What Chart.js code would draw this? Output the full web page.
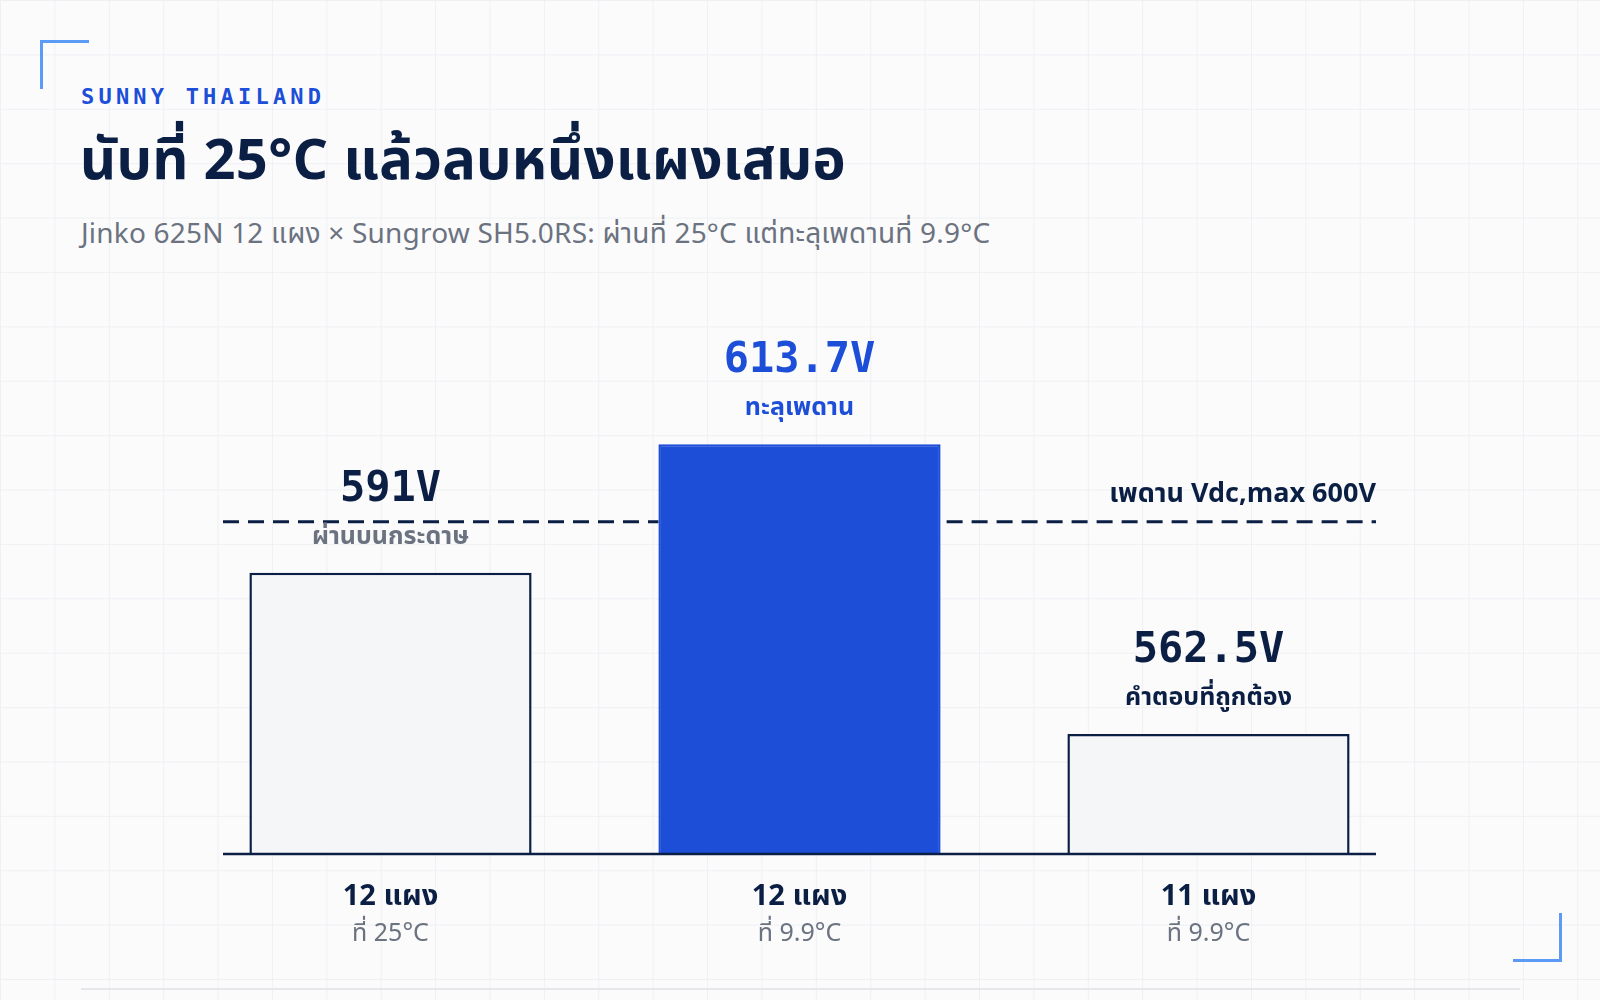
<!DOCTYPE html>
<html>
<head>
<meta charset="utf-8">
<script src="https://cdn.jsdelivr.net/npm/chart.js@4"></script>
<style>
  html, body { margin: 0; padding: 0; }
  body {
    width: 1600px; height: 1000px; overflow: hidden; position: relative;
    background-color: #fbfbfc;
    background-image:
      linear-gradient(to right, #eef0f3 1px, transparent 1px),
      linear-gradient(to bottom, #eef0f3 1px, transparent 1px);
    background-size: 54.4px 54.4px;
    font-family: "Noto Sans Thai", "Noto Sans", "Liberation Sans", sans-serif;
  }
  .corner { position: absolute; width: 46px; height: 46px; border-color: #5b9bf5; border-style: solid; border-width: 0; }
  .tl { left: 40px; top: 40px; border-top-width: 3px; border-left-width: 3px; }
  .br { left: 1513px; top: 913px; border-bottom-width: 3px; border-right-width: 3px; }
  .kicker { position: absolute; left: 81px; top: 84px; font-family: "DejaVu Sans Mono", monospace; font-weight: bold; font-size: 22px; letter-spacing: 4.2px; color: #1d4ed8; }
  h1 { position: absolute; left: 80px; top: 132px; margin: 0; font-size: 56px; font-weight: 700; color: #0b1f44; line-height: 1.1; letter-spacing: 0.3px; }
  .sub { position: absolute; left: 81px; top: 213px; font-size: 28px; color: #6b7280; letter-spacing: 0.2px; }
  .rule { position: absolute; left: 81px; top: 988px; width: 1439px; height: 2px; background: #e5e7eb; }
  #wrap { position: absolute; left: 0; top: 0; width: 1600px; height: 1000px; }
</style>
</head>
<body>
<div class="corner tl"></div>
<div class="corner br"></div>
<div class="kicker">SUNNY THAILAND</div>
<h1>นับที่ 25°C แล้วลบหนึ่งแผงเสมอ</h1>
<div class="sub">Jinko 625N 12 แผง × Sungrow SH5.0RS: ผ่านที่ 25°C แต่ทะลุเพดานที่ 9.9°C</div>
<div class="rule"></div>
<div id="wrap"><canvas id="chart" width="1600" height="1000"></canvas></div>
<script>
const panels = ["12 แผง", "12 แผง", "11 แผง"];
const temps = ["ที่ 25°C", "ที่ 9.9°C", "ที่ 9.9°C"];
const voltages = [591, 613.7, 562.5];
const valueLabels = ["591V", "613.7V", "562.5V"];
const notes = ["ผ่านบนกระดาษ", "ทะลุเพดาน", "คำตอบที่ถูกต้อง"];
const limitValue = 600;
const limitLabel = "เพดาน Vdc,max 600V";

const DARK = "#0b1f44", BLUE = "#1d4ed8", GRAY = "#6b7280";
const SANS = '"Noto Sans Thai", "Noto Sans", "Liberation Sans", sans-serif';
const MONO = '"DejaVu Sans Mono", monospace';

const overlay = {
  id: "overlay",
  afterDatasetsDraw(chart) {
    const ctx = chart.ctx;
    const y = chart.scales.y;
    const left = 223, right = 1376;
    ctx.save();
    // baseline
    ctx.strokeStyle = DARK; ctx.lineWidth = 2.5;
    ctx.beginPath(); ctx.moveTo(left, y.bottom); ctx.lineTo(right, y.bottom); ctx.stroke();
    // limit line, interrupted by the blue bar
    const ly = y.getPixelForValue(limitValue);
    const bar2 = chart.getDatasetMeta(0).data[1];
    ctx.setLineDash([16, 9]); ctx.lineWidth = 3;
    ctx.beginPath(); ctx.moveTo(left, ly); ctx.lineTo(bar2.x - bar2.width / 2, ly);
    ctx.moveTo(bar2.x + bar2.width / 2 + 6, ly); ctx.lineTo(right, ly); ctx.stroke();
    ctx.setLineDash([]);
    ctx.fillStyle = DARK; ctx.textAlign = "right"; ctx.textBaseline = "alphabetic";
    ctx.font = "bold 27px " + SANS;
    ctx.fillText(limitLabel, right, ly - 20);

    ctx.textAlign = "center";
    chart.getDatasetMeta(0).data.forEach((bar, i) => {
      const valColor = i === 1 ? BLUE : DARK;
      const noteColor = i === 0 ? GRAY : (i === 1 ? BLUE : DARK);
      ctx.fillStyle = valColor;
      ctx.font = "bold 42px " + MONO;
      ctx.fillText(valueLabels[i], bar.x, bar.y - 72);
      ctx.fillStyle = noteColor;
      ctx.font = "bold 25px " + SANS;
      ctx.fillText(notes[i], bar.x, bar.y - 29);
      ctx.fillStyle = DARK;
      ctx.font = "bold 29px " + SANS;
      ctx.fillText(panels[i], bar.x, y.bottom + 51);
      ctx.fillStyle = GRAY;
      ctx.font = "25px " + SANS;
      ctx.fillText(temps[i], bar.x, y.bottom + 87);
    });
    ctx.restore();
  }
};

new Chart(document.getElementById("chart"), {
  type: "bar",
  data: {
    labels: panels,
    datasets: [{
      data: voltages,
      backgroundColor: ["#f5f6f8", BLUE, "#f5f6f8"],
      borderColor: [DARK, BLUE, DARK],
      borderWidth: 2.5,
      borderSkipped: "bottom",
      barPercentage: 0.69,
      categoryPercentage: 1
    }]
  },
  options: {
    responsive: false,
    animation: false,
    layout: { padding: { left: 186, right: 187, top: 235, bottom: 146 } },
    plugins: { legend: { display: false }, tooltip: { enabled: false } },
    scales: {
      x: { display: false },
      y: { display: false, min: 541.3, max: 650.7 }
    }
  },
  plugins: [overlay]
});
</script>
</body>
</html>
